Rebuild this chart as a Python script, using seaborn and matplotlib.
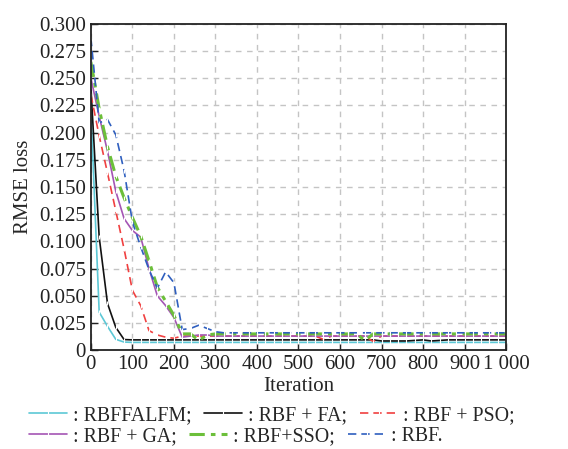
import matplotlib
matplotlib.use("Agg")
import matplotlib.pyplot as plt
import seaborn as sns
import pandas as pd
from matplotlib.ticker import FixedLocator, FuncFormatter

iters = [0, 20, 40, 60, 80, 100, 120, 140, 160, 180, 200, 220, 240, 260, 280, 300,
         320, 340, 360, 380, 400, 420, 440, 460, 480, 500, 520, 540, 560, 580, 600,
         620, 640, 660, 680, 700, 720, 740, 760, 780, 800, 820, 840, 860, 880, 900,
         920, 940, 960, 980, 1000]

rbffalfm = [0.222, 0.035, 0.022, 0.010, 0.0075, 0.0072, 0.0072, 0.0072, 0.0072, 0.0072,
            0.0072, 0.0072, 0.0072, 0.0072, 0.0072, 0.0072, 0.0072, 0.0072, 0.0072, 0.0072,
            0.0072, 0.0072, 0.0072, 0.0072, 0.0072, 0.0072, 0.0072, 0.0072, 0.0072, 0.0072,
            0.0072, 0.0072, 0.0072, 0.0072, 0.0072, 0.0072, 0.0072, 0.0072, 0.0072, 0.0072,
            0.0072, 0.0072, 0.0072, 0.0072, 0.0072, 0.0072, 0.0072, 0.0072, 0.0072, 0.0072,
            0.0072]
rbf_fa = [0.242, 0.104, 0.043, 0.021, 0.0098, 0.0095, 0.0095, 0.0095, 0.0095, 0.0095,
          0.0095, 0.0095, 0.0095, 0.0095, 0.0095, 0.0095, 0.0095, 0.0095, 0.0095, 0.0095,
          0.0095, 0.0095, 0.0095, 0.0095, 0.0095, 0.0095, 0.0095, 0.0095, 0.0095, 0.0095,
          0.0095, 0.0095, 0.0095, 0.0095, 0.0095, 0.0085, 0.0085, 0.0085, 0.0085, 0.009,
          0.0095, 0.0085, 0.009, 0.0095, 0.0095, 0.0095, 0.0095, 0.0095, 0.0095, 0.0095,
          0.0095]
rbf_pso = [0.235, 0.197, 0.163, 0.128, 0.093, 0.055, 0.041, 0.018, 0.014, 0.012,
           0.011, 0.013, 0.013, 0.013, 0.013, 0.013, 0.013, 0.013, 0.013, 0.013,
           0.013, 0.013, 0.013, 0.013, 0.013, 0.013, 0.013, 0.013, 0.010, 0.013,
           0.013, 0.013, 0.013, 0.013, 0.008, 0.013, 0.013, 0.013, 0.013, 0.013,
           0.013, 0.013, 0.013, 0.013, 0.013, 0.013, 0.013, 0.013, 0.013, 0.013,
           0.013]
rbf_ga = [0.250, 0.215, 0.183, 0.146, 0.121, 0.110, 0.104, 0.075, 0.050, 0.041,
          0.030, 0.012, 0.013, 0.014, 0.014, 0.013, 0.013, 0.013, 0.013, 0.013,
          0.013, 0.013, 0.013, 0.013, 0.013, 0.013, 0.013, 0.013, 0.013, 0.013,
          0.013, 0.013, 0.013, 0.013, 0.013, 0.013, 0.013, 0.013, 0.013, 0.013,
          0.013, 0.013, 0.013, 0.013, 0.013, 0.013, 0.013, 0.013, 0.013, 0.013,
          0.013]
rbf_sso = [0.265, 0.222, 0.187, 0.160, 0.140, 0.122, 0.105, 0.082, 0.058, 0.045,
           0.032, 0.015, 0.015, 0.009, 0.014, 0.015, 0.015, 0.015, 0.015, 0.015,
           0.015, 0.015, 0.015, 0.015, 0.015, 0.015, 0.015, 0.015, 0.015, 0.015,
           0.015, 0.015, 0.015, 0.009, 0.015, 0.015, 0.015, 0.015, 0.015, 0.015,
           0.015, 0.015, 0.015, 0.015, 0.015, 0.015, 0.015, 0.015, 0.015, 0.015,
           0.015]
rbf = [0.287, 0.209, 0.212, 0.198, 0.165, 0.118, 0.095, 0.074, 0.057, 0.072,
       0.062, 0.019, 0.020, 0.023, 0.020, 0.017, 0.016, 0.016, 0.016, 0.016,
       0.016, 0.016, 0.016, 0.016, 0.016, 0.016, 0.016, 0.016, 0.016, 0.016,
       0.016, 0.016, 0.016, 0.016, 0.016, 0.016, 0.016, 0.016, 0.016, 0.016,
       0.016, 0.016, 0.016, 0.016, 0.016, 0.016, 0.016, 0.016, 0.016, 0.016,
       0.016]

labels = [': RBFFALFM;', ': RBF + FA;', ': RBF + PSO;', ': RBF + GA;', ': RBF+SSO;', ': RBF.']
series = [rbffalfm, rbf_fa, rbf_pso, rbf_ga, rbf_sso, rbf]
colors = ['#5cc8d6', '#111111', '#f04040', '#a455b4', '#6cbf3a', '#2f5fbf']
styles = ['-', '-', (0, (5, 3)), '-', (0, (5, 2, 1.5, 2)), (0, (5, 3))]
widths = [1.2, 1.2, 1.2, 1.2, 2.2, 1.2]

sns.set_style("ticks")
plt.rcParams['font.family'] = ['Liberation Serif', 'DejaVu Serif']

fig = plt.figure(figsize=(5.68, 4.49), dpi=100)
ax = fig.add_axes([0.160, 0.220, 0.731, 0.727])

handles = []
for name, vals, c, ls, lw in zip(labels, series, colors, styles, widths):
    df = pd.DataFrame({'Iteration': iters, 'loss': vals})
    sns.lineplot(x='Iteration', y='loss', data=df, ax=ax, color=c, linewidth=lw,
                 linestyle=ls, marker='|', markersize=3, markeredgewidth=0.8,
                 legend=False)
    handles.append(ax.get_lines()[-1])

ax.set_xlim(0, 1000)
ax.set_ylim(0, 0.3)
ax.xaxis.set_major_locator(FixedLocator(list(range(0, 1001, 100))))
ax.yaxis.set_major_locator(FixedLocator([i * 0.025 for i in range(13)]))
ax.xaxis.set_major_formatter(FuncFormatter(lambda v, p: '1 000' if v == 1000 else '%d' % v))
ax.yaxis.set_major_formatter(FuncFormatter(lambda v, p: '0' if v == 0 else '%.3f' % v))
ax.tick_params(direction='in', length=5, width=1, labelsize=15, colors='#222222')
ax.grid(True, color='#c4c4c4', linestyle=(0, (4, 4)), linewidth=1)
ax.set_axisbelow(True)
for s in ax.spines.values():
    s.set_visible(True)
    s.set_linewidth(1.3)
    s.set_color('#222222')

ax.set_xlabel('Iteration', fontsize=15, labelpad=2)
ax.set_ylabel('RMSE loss', fontsize=15, labelpad=4)

# two legend rows, each left aligned like running text
leg_kw = dict(loc='center left', ncol=3, frameon=False, fontsize=14.3,
              handlelength=1.9, handletextpad=0.3, columnspacing=0.65,
              borderpad=0, borderaxespad=0)
row1 = fig.legend(handles[:3], labels[:3], bbox_to_anchor=(0.051, 0.075), **leg_kw)
row2 = fig.legend(handles[3:], labels[3:], bbox_to_anchor=(0.051, 0.027), **leg_kw)

plt.savefig('out.png', dpi=100)
plt.close()
